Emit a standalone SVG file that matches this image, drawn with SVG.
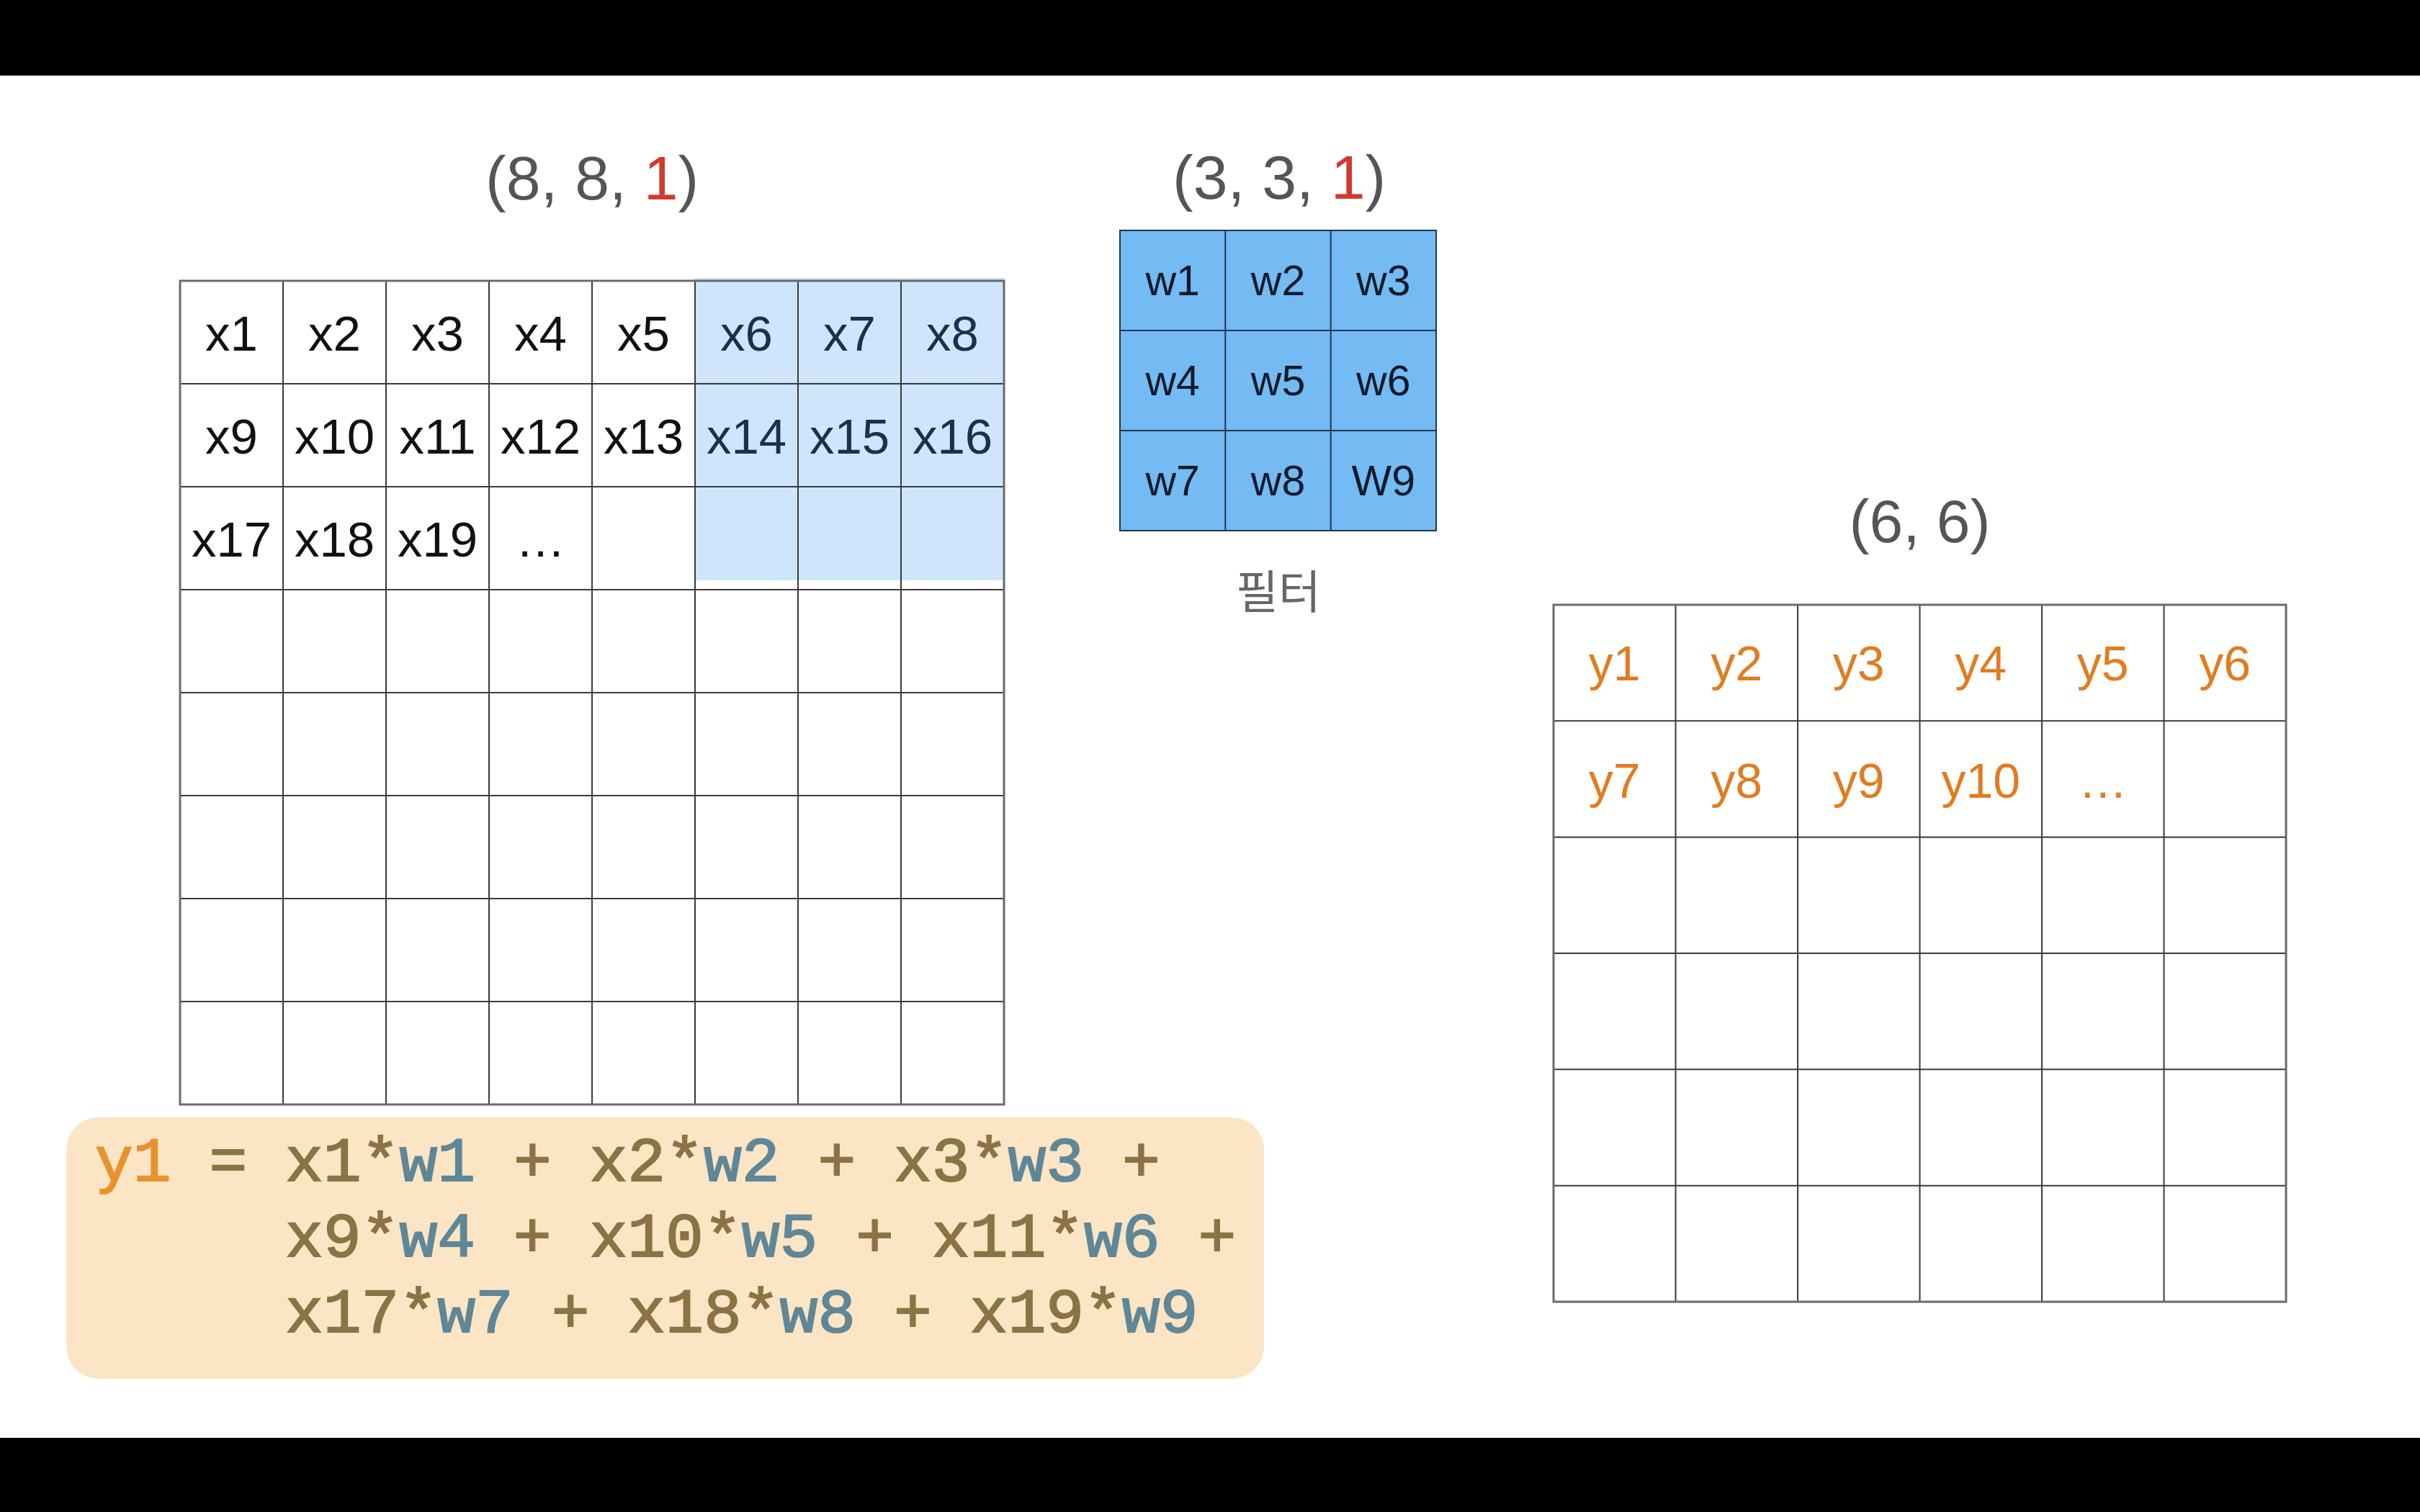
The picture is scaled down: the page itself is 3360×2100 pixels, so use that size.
<svg xmlns="http://www.w3.org/2000/svg" width="3360" height="2100" viewBox="0 0 3360 2100">
<style>
.cell{font-family:"Liberation Sans",Arial,sans-serif;text-anchor:middle}
.xt{font-size:69px;fill:#111}
.xh{font-size:69px;fill:#1b2f4f}
.wt{font-size:59px;fill:#0e1a2a}
.yt{font-size:68px;fill:#e17c20}
.title{font-family:"Liberation Sans",Arial,sans-serif;fill:#555}
.red{fill:#d23a2c}
.gl{stroke:#3a3a3a;stroke-width:2;fill:none}
.border{stroke:#6a6a6a;stroke-width:3;fill:none}
.fl{stroke:#1f3550;stroke-width:2;fill:none}
.code{font-family:"Liberation Mono","Courier New",monospace;font-size:88px;fill:#8a7443;stroke:#8a7443;stroke-width:2}
.cw{fill:#5f8797;stroke:#5f8797}
.cy{fill:#e8922e;stroke:#e8922e}
</style>
<rect x="0" y="0" width="3360" height="2100" fill="#ffffff"/>
<rect x="0" y="0" width="3360" height="105" fill="#000"/>
<rect x="0" y="1997" width="3360" height="103" fill="#000"/>

<g id="input-grid">
<text class="title" x="674" y="277" font-size="86">(8, 8, </text>
<text class="title red" x="893.8" y="277" font-size="86">1</text>
<text class="title" x="941.6" y="277" font-size="86">)</text>
<rect x="964" y="386" width="431" height="420" fill="#cfe5fb"/>
<path class="gl" d="M393 390V1534M536 390V1534M679 390V1534M822 390V1534M965 390V1534M1108 390V1534M1251 390V1534M250 533H1394M250 676H1394M250 819H1394M250 962H1394M250 1105H1394M250 1248H1394M250 1391H1394"/>
<rect class="border" x="250" y="390" width="1144" height="1144"/>
<g class="cell">
<text class="xt" x="321.5" y="487">x1</text>
<text class="xt" x="464.5" y="487">x2</text>
<text class="xt" x="607.5" y="487">x3</text>
<text class="xt" x="750.5" y="487">x4</text>
<text class="xt" x="893.5" y="487">x5</text>
<text class="xh" x="1036.5" y="487">x6</text>
<text class="xh" x="1179.5" y="487">x7</text>
<text class="xh" x="1322.5" y="487">x8</text>
<text class="xt" x="321.5" y="630">x9</text>
<text class="xt" x="464.5" y="630">x10</text>
<text class="xt" x="607.5" y="630">x11</text>
<text class="xt" x="750.5" y="630">x12</text>
<text class="xt" x="893.5" y="630">x13</text>
<text class="xh" x="1036.5" y="630">x14</text>
<text class="xh" x="1179.5" y="630">x15</text>
<text class="xh" x="1322.5" y="630">x16</text>
<text class="xt" x="321.5" y="773">x17</text>
<text class="xt" x="464.5" y="773">x18</text>
<text class="xt" x="607.5" y="773">x19</text>
<text class="xt" x="750.5" y="773">…</text>
</g>
</g>

<g id="filter">
<text class="title" x="1628" y="276" font-size="86">(3, 3, </text>
<text class="title red" x="1847.8" y="276" font-size="86">1</text>
<text class="title" x="1895.6" y="276" font-size="86">)</text>
<rect x="1555" y="320" width="439" height="417" fill="#74baf3"/>
<path class="fl" d="M1701.3 320V737M1847.7 320V737M1555 459H1994M1555 598H1994"/>
<rect class="fl" x="1555" y="320" width="439" height="417"/>
<g class="cell">
<text class="wt" x="1628.2" y="410">w1</text>
<text class="wt" x="1774.5" y="410">w2</text>
<text class="wt" x="1920.8" y="410">w3</text>
<text class="wt" x="1628.2" y="549">w4</text>
<text class="wt" x="1774.5" y="549">w5</text>
<text class="wt" x="1920.8" y="549">w6</text>
<text class="wt" x="1628.2" y="688">w7</text>
<text class="wt" x="1774.5" y="688">w8</text>
<text class="wt" x="1920.8" y="688">W9</text>
</g>
<text x="1775" y="845" text-anchor="middle" font-size="64" fill="#666" font-family="'Noto Sans CJK KR','Noto Sans',sans-serif">필터</text>
</g>

<g id="output-grid">
<text class="title" x="2665.5" y="753" font-size="84" text-anchor="middle">(6, 6)</text>
<path class="gl" d="M2326.5 840V1808M2496 840V1808M2665.5 840V1808M2835 840V1808M3004.5 840V1808M2157 1001.3H3174M2157 1162.7H3174M2157 1324H3174M2157 1485.3H3174M2157 1646.7H3174"/>
<rect class="border" x="2157" y="840" width="1017" height="968"/>
<g class="cell">
<text class="yt" x="2241.75" y="945">y1</text>
<text class="yt" x="2411.25" y="945">y2</text>
<text class="yt" x="2580.75" y="945">y3</text>
<text class="yt" x="2750.25" y="945">y4</text>
<text class="yt" x="2919.75" y="945">y5</text>
<text class="yt" x="3089.25" y="945">y6</text>
<text class="yt" x="2241.75" y="1108">y7</text>
<text class="yt" x="2411.25" y="1108">y8</text>
<text class="yt" x="2580.75" y="1108">y9</text>
<text class="yt" x="2750.25" y="1108">y10</text>
<text class="yt" x="2919.75" y="1108">…</text>
</g>
</g>

<g id="formula">
<rect x="92" y="1552" width="1663" height="363" rx="45" ry="45" fill="#fbe5c4"/>
<text class="code" x="132" y="1640"><tspan class="cy">y1</tspan> = x1*<tspan class="cw">w1</tspan> + x2*<tspan class="cw">w2</tspan> + x3*<tspan class="cw">w3</tspan> +</text>
<text class="code" x="396" y="1745">x9*<tspan class="cw">w4</tspan> + x10*<tspan class="cw">w5</tspan> + x11*<tspan class="cw">w6</tspan> +</text>
<text class="code" x="396" y="1850">x17*<tspan class="cw">w7</tspan> + x18*<tspan class="cw">w8</tspan> + x19*<tspan class="cw">w9</tspan></text>
</g>
</svg>
